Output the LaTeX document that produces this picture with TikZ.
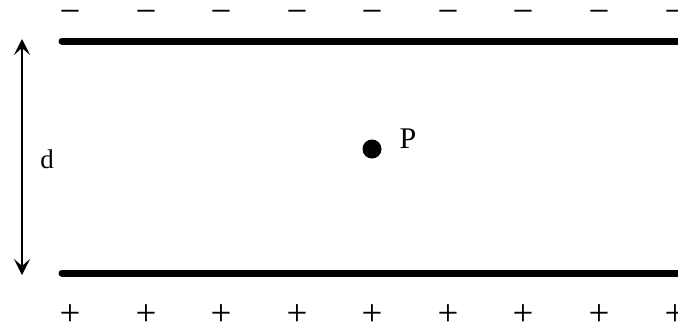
\documentclass[tikz,border=0pt]{standalone}
\usepackage{fontspec}
\setmainfont{Liberation Serif}
\usetikzlibrary{arrows.meta}
\begin{document}
\begin{tikzpicture}[x=1pt,y=-1pt,
  plate/.style={line width=7pt,line cap=round},
  sign/.style={inner sep=0pt,anchor=base,font={\fontsize{37pt}{37pt}\selectfont}},
  dim/.style={line width=1.3pt,{Stealth[length=16pt,width=16pt,inset=7pt]}-{Stealth[length=16pt,width=16pt,inset=7pt]}},
  lbl/.style={inner sep=0pt,anchor=base}]
\useasboundingbox (0,0) rectangle (678,327);
\clip (0,0) rectangle (678,327);
% plates
\coordinate (tl) at (62,41);
\coordinate (tr) at (700,41);
\coordinate (bl) at (62,273);
\coordinate (br) at (700,273);
\draw[plate] (tl) -- (tr);
\draw[plate] (bl) -- (br);
% charges
\foreach \i/\x in {1/70,2/146,3/221,4/297,5/372,6/448,7/523,8/599,9/675}{
  \node[sign] (m\i) at (\x,23) {−};
  \node[sign] (p\i) at (\x,325) {+};
}
% distance arrow
\coordinate (at) at (22,39);
\coordinate (ab) at (22,275);
\draw[dim] (at) -- (ab);
\node[lbl,font={\fontsize{27pt}{27pt}\selectfont}] (d) at (47,168) {d};
% point P
\node[circle,fill=black,minimum size=19pt,inner sep=0pt] (dot) at (372,149) {};
\node[lbl,font={\fontsize{30pt}{30pt}\selectfont}] (P) at (408,148) {P};
\end{tikzpicture}
\end{document}
